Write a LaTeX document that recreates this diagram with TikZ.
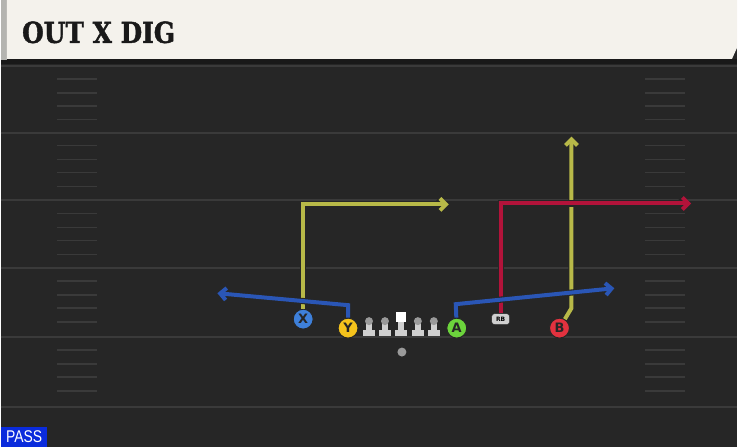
\documentclass[tikz,border=0pt]{standalone}
\usepackage{fontspec}
\setsansfont{DejaVu Sans}
\newfontfamily\titlefont{DejaVu Serif}[FakeBold=1.6]
\newfontfamily\tagfont{Liberation Sans}
\usetikzlibrary{arrows.meta}

\definecolor{field}{HTML}{262626}
\definecolor{fieldline}{HTML}{3A3A3A}
\definecolor{cream}{HTML}{F4F2EC}
\definecolor{edgegrey}{HTML}{B4B4B0}
\definecolor{passblue}{HTML}{0A2BDC}
\definecolor{xblue}{HTML}{3E80DA}
\definecolor{yyellow}{HTML}{F5C31C}
\definecolor{agreen}{HTML}{6CD43C}
\definecolor{bred}{HTML}{E2323F}
\definecolor{yroute}{HTML}{B8B948}
\definecolor{broute}{HTML}{2A56B6}
\definecolor{rroute}{HTML}{B2133A}
\definecolor{olhead}{HTML}{9A9A9A}
\definecolor{olbody}{HTML}{CFCFCF}

\tikzstyle{yardline} = [fieldline, line width=2pt]
\tikzstyle{hash} = [fieldline, line width=1.6pt]
\tikzstyle{player} = [circle, draw=black!85, line width=1pt, minimum size=20pt, inner sep=0pt, font=\sffamily\bfseries\fontsize{13}{13}\selectfont, text=black!85]
\tikzstyle{route} = [line width=4pt, -{Straight Barb[length=6pt, width=12pt]}, preaction={draw=black!85, line width=6.2pt}]

\begin{document}
\begin{tikzpicture}[x=1pt, y=-1pt]

    \fill[field] (0,0) rectangle (738,448);
    \foreach \y in {66,133,201,269,338,408}
        \draw[yardline] (0,\y) -- (738,\y);
    \foreach \y in {66,133,201,269,338}
        \foreach \d in {13,27,40,54} {
            \draw[hash] (56,{\y+\d}) -- (96,{\y+\d});
            \draw[hash] (646,{\y+\d}) -- (686,{\y+\d});
        }

    % header
    \fill[black!90] (0,59) rectangle (738,64);
    \fill[edgegrey] (0,0) rectangle (6,60);
    \fill[cream] (6,0) -- (738,0) -- (738,48) -- (733,59) -- (6,59) -- cycle;
    \node (title) [anchor=base west, inner sep=0pt, text=black!90, font=\titlefont\bfseries\fontsize{29}{29}\selectfont] at (21,43) {\scalebox{0.86}[1]{OUT X DIG}};

    \node (pass) [anchor=south west, fill=passblue, text=white, minimum width=46pt, minimum height=20pt, inner sep=0pt, font=\tagfont\fontsize{17}{17}\selectfont] at (0,448) {\scalebox{0.82}[1]{PASS}};

    % line
    \foreach \x in {369,385,401,418,434} {
        \fill[olbody] (\x-6,331) rectangle (\x+6,336.5);
        \fill[olbody] (\x-3,323) rectangle (\x+3,332);
    }
    \foreach \x in {369,385,418,434}
        \fill[olhead] (\x,322) circle (4);
    \fill[white] (396.5,313) rectangle (406.5,323);

    \node (ball) [circle, fill=olhead, minimum size=9pt, inner sep=0pt] at (402,353) {};

    \node (X) [player, fill=xblue] at (303,320) {X};
    \node (Y) [player, fill=yyellow] at (348,329) {Y};
    \node (A) [player, fill=agreen] at (457,329) {A};
    \node (B) [player, fill=bred] at (560,329) {B};
    \node (RB) [draw=black!85, fill=olbody, rounded corners=3pt, minimum width=18pt, minimum height=11pt, inner sep=0pt, font=\sffamily\bfseries\fontsize{6}{6}\selectfont] at (501,320) {RB};

    \coordinate (xturn) at (303,205);
    \coordinate (xend) at (449,205);
    \coordinate (yturn) at (348,306);
    \coordinate (yend) at (217,294);
    \coordinate (bturn) at (572,309);
    \coordinate (bend) at (572,137);
    \coordinate (rbturn) at (501,204);
    \coordinate (rbend) at (692,204);
    \coordinate (aturn) at (456,305);
    \coordinate (aend) at (615,289);

    \draw[route, yroute] (X) -- (xturn) -- (xend);
    \draw[route, broute] (Y) -- (yturn) -- (yend);
    \draw[route, yroute] (B) -- (bturn) -- (bend);
    \draw[route, rroute] (RB) -- (rbturn) -- (rbend);
    \draw[route, broute] (A) -- (aturn) -- (aend);

\end{tikzpicture}
\end{document}
